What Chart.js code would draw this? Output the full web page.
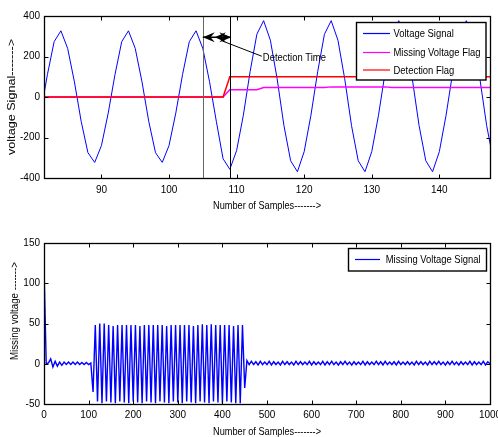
<!DOCTYPE html>
<html><head><meta charset="utf-8">
<script src="https://cdn.jsdelivr.net/npm/chart.js@4.4.1/dist/chart.umd.min.js"></script>
<style>
html,body{margin:0;padding:0;background:#fff;}
#wrap{position:relative;width:498px;height:437px;overflow:hidden;background:#fff;}
canvas{position:absolute;left:0;}
#c1{top:0;} #c2{top:218px;}
</style></head><body>
<div id="wrap"><canvas id="c1" width="498" height="218"></canvas><canvas id="c2" width="498" height="219"></canvas></div>
<script>
// ---------- DATA ----------
const topSamples = [81,82,83,84,85,86,87,88,89,90,91,92,93,94,95,96,97,98,99,100,
  101,102,103,104,105,106,107,108,109,110,111,112,113,114,115,116,117,118,119,120,
  121,122,123,124,125,126,127,128,129,130,131,132,133,134,135,136,137,138,139,140,
  141,142,143,144,145,146,147,148];
const voltageSignal = [-80,110,273,327,240,75,-120,-275,-323,-240,-80,110,273,327,240,75,-120,-275,-323,-240,
  -80,110,273,327,240,75,-120,-305,-357,-265,-90,125,310,377,280,90,-140,-315,-369,-270,
  -90,125,310,377,280,90,-140,-315,-369,-270,-90,125,310,377,280,90,-140,-315,-369,-270,
  -90,125,310,377,280,90,-140,-315];
const missingFlag = [0,0,0,0,0,0,0,0,0,0,0,0,0,0,0,0,0,0,0,0,
  0,0,0,0,0,0,0,0,36,36,36,36,36,47,47,47,47,47,47,47,
  47,47,47,50,50,50,50,50,50,50,50,50,47,47,47,47,47,47,47,47,
  47,47,47,47,47,47,47,47];
const detectionFlag = [0,0,0,0,0,0,0,0,0,0,0,0,0,0,0,0,0,0,0,0,
  0,0,0,0,0,0,0,0,100,100,100,100,100,100,100,100,100,100,100,100,
  100,100,100,100,100,100,100,100,100,100,100,100,100,100,100,100,100,100,100,100,
  100,100,100,100,100,100,100,100];
const topLabels = ['Voltage Signal','Missing Voltage Flag','Detection Flag'];
const markerSamples = [105, 109];
const arrowLevel = 295;
const annotationText = 'Detection Time';

const missStep = 5; // samples between stored points (x = index * missStep)
const missingVoltage = [120,0,1,6,-4,3,-3,2,-2,2,
  -1,2,-1,2,-1,2,-1,1.5,-1,1.5,
  -1,1,-35,48,-47,50,-49,50,-47,48,
  -48,47,-49,48,-47,48,-48,48,-49,48,
  -47,48,-48,47,-49,48,-47,48,-48,48,
  -49,48,-47,48,-48,47,-49,48,-47,48,
  -48,48,-49,48,-47,48,-48,47,-49,48,
  -47,49,-48,48,-49,49,-47,48,-48,48,
  -49,48,-47,48,-48,47,-49,48,-49,48,
  -30,4,-1,
  3,-1,2.5,-1.5,3,-1,2,-1,3,-1.5,2.5,-1,
  2,-1.5,3,-1,2.5,-1,2,-1.5,3,-1,2.5,-1,
  2,-1,3,-1.5,2.5,-1,2,-1,3,-1.5,2.5,-1,
  3,-1,2,-1.5,2.5,-1,3,-1,2,-1.5,2.5,-1,
  2,-1,3,-1.5,2.5,-1,2,-1,3,-1,2.5,-1.5,
  3,-1,2,-1,2.5,-1.5,3,-1,2,-1,2.5,-1,
  2,-1.5,3,-1,2.5,-1,2,-1.5,3,-1,2.5,-1,
  3,-1,2,-1.5,2.5,-1,3,-1,2,-1.5,2.5,-1,
  2,-1,3,-1.5,2.5,-1,2,-1,3,-1.5,2.5,0];
const bottomLabel = 'Missing Voltage Signal';

// ---------- FONTS ----------
const FONT = "'Liberation Sans', Arial, Helvetica, sans-serif";
function hasFont(name){
  const c=document.createElement('canvas').getContext('2d');
  c.font="40px monospace"; const a=c.measureText('abcdefghijklmWMi').width;
  c.font="40px '"+name+"', monospace"; const b=c.measureText('abcdefghijklmWMi').width;
  return Math.abs(a-b)>0.5;
}
const NARROW = hasFont('Liberation Sans Narrow');
const tickFont = NARROW ? {family:"'Liberation Sans Narrow', 'Liberation Sans', Arial, sans-serif", size:11}
                        : {family:FONT, size:10};
const SX = 0.82; // horizontal compression for hand-drawn texts

function txt(ctx,s,x,y,size,sx,align,rot){
  ctx.save(); ctx.font=size+'px '+FONT; ctx.fillStyle='#000';
  ctx.textAlign=align; ctx.textBaseline='middle';
  ctx.translate(x,y); if(rot) ctx.rotate(-Math.PI/2); ctx.scale(sx,1);
  ctx.fillText(s,0,0); ctx.restore();
}
function txtW(ctx,s,x,y,size,width,align,rot){
  ctx.save(); ctx.font=size+'px '+FONT; const w=ctx.measureText(s).width; ctx.restore();
  txt(ctx,s,x,y,size,width/w,align,rot);
}
function frame(chart){
  const ctx=chart.ctx,a=chart.chartArea,xs=chart.scales.x,ys=chart.scales.y;
  const L=Math.round(a.left)+0.5,R=Math.round(a.right)+0.5,T=Math.round(a.top)+0.5,B=Math.round(a.bottom)+0.5;
  ctx.save(); ctx.strokeStyle='#000'; ctx.lineWidth=1; ctx.beginPath();
  xs.ticks.forEach(t=>{const p=Math.round(xs.getPixelForValue(t.value))+0.5;
    ctx.moveTo(p,B); ctx.lineTo(p,B-4); ctx.moveTo(p,T); ctx.lineTo(p,T+4);});
  ys.ticks.forEach(t=>{const p=Math.round(ys.getPixelForValue(t.value))+0.5;
    ctx.moveTo(L,p); ctx.lineTo(L+4,p); ctx.moveTo(R,p); ctx.lineTo(R-4,p);});
  ctx.stroke();
  ctx.lineWidth=1.3; ctx.strokeRect(L,T,R-L,B-T);
  ctx.restore();
}
function drawLegend(chart,box,lx1,lx2,tx,rows){
  const ctx=chart.ctx;
  ctx.save();
  ctx.fillStyle='#fff'; ctx.fillRect(box.x,box.y,box.w,box.h);
  ctx.strokeStyle='#000'; ctx.lineWidth=1.4; ctx.strokeRect(box.x,box.y,box.w,box.h);
  chart.data.datasets.forEach((d,i)=>{
    ctx.strokeStyle=d.borderColor; ctx.lineWidth=1.2;
    ctx.beginPath(); ctx.moveTo(lx1,rows[i]); ctx.lineTo(lx2,rows[i]); ctx.stroke();
    txt(ctx,d.label,tx,rows[i]+0.5,11.5,SX,'left',false);
  });
  ctx.restore();
}

const topDecor = {
  id:'topDecor',
  afterDatasetsDraw(chart){
    const ctx=chart.ctx,xs=chart.scales.x,ys=chart.scales.y,a=chart.chartArea;
    ctx.save();
    const cols=['#666','#000'];
    markerSamples.forEach((s,i)=>{
      const px=Math.round(xs.getPixelForValue(s))+0.5;
      ctx.strokeStyle=cols[i]; ctx.lineWidth=1;
      ctx.beginPath(); ctx.moveTo(px,a.top); ctx.lineTo(px,a.bottom); ctx.stroke();
    });
    const x1=xs.getPixelForValue(markerSamples[0]), x2=xs.getPixelForValue(markerSamples[1]);
    const ay=ys.getPixelForValue(arrowLevel);
    ctx.strokeStyle='#000'; ctx.fillStyle='#000'; ctx.lineWidth=1.5;
    ctx.beginPath(); ctx.moveTo(x1,ay); ctx.lineTo(x2,ay); ctx.stroke();
    const head=(tip,dir,len,hw)=>{ctx.beginPath(); ctx.moveTo(tip,ay); ctx.lineTo(tip+dir*len,ay-hw); ctx.lineTo(tip+dir*len*0.65,ay); ctx.lineTo(tip+dir*len,ay+hw); ctx.closePath(); ctx.fill();};
    head(x1,1,12,5);
    head(x1+12,1,11,5);
    head(x2+1.5,-1,12,5);
    ctx.lineWidth=1;
    ctx.beginPath(); ctx.moveTo(x1+0.7*(x2-x1),ay+3.5); ctx.lineTo(x2+32,ay+19); ctx.stroke();
    ctx.restore();
    txt(ctx,annotationText,x2+33,ay+20.5,11.5,SX,'left',false);
    drawLegend(chart,{x:356.5,y:22.5,w:129.5,h:57.5},363,390,393.5,[33.5,52.5,70]);
    frame(chart);
    txtW(ctx,'Number of Samples------->',(a.left+a.right)/2,206,11,108,'center',false);
    txtW(ctx,'voltage Signal------->',12.5,97,10,116,'center',true);
  }
};
const botDecor = {
  id:'botDecor',
  afterDatasetsDraw(chart){
    const ctx=chart.ctx,a=chart.chartArea;
    drawLegend(chart,{x:348.5,y:30.5,w:138,h:22.5},355,380,385.7,[41.5]);
    frame(chart);
    txtW(ctx,'Number of Samples------->',(a.left+a.right)/2,213.7,11,108,'center',false);
    txtW(ctx,'Missing voltage ------->',15.5,93,10,98,'center',true);
  }
};

Chart.defaults.font.family = tickFont.family;
Chart.defaults.color = '#000';

const lineDs = (label,data,color,w,order)=>({label,data,borderColor:color,backgroundColor:color,borderWidth:w,
  pointRadius:0,tension:0,fill:false,order});
const noGrid = {display:false,drawTicks:false,drawOnChartArea:false};

new Chart(document.getElementById('c1'),{
  type:'line',
  data:{datasets:[
    lineDs(topLabels[0],topSamples.map((s,i)=>({x:s,y:voltageSignal[i]})),'#0000ff',1,3),
    lineDs(topLabels[1],topSamples.map((s,i)=>({x:s,y:missingFlag[i]})),'#ff00ff',1.5,2),
    lineDs(topLabels[2],topSamples.map((s,i)=>({x:s,y:detectionFlag[i]})),'#ff0000',1.5,1)
  ]},
  options:{
    responsive:false,animation:false,devicePixelRatio:1,
    layout:{padding:{left:0,right:8,top:16,bottom:0}},
    plugins:{legend:{display:false},tooltip:{enabled:false}},
    scales:{
      x:{type:'linear',min:81.5,max:147.5,grid:noGrid,border:{display:false},
        ticks:{stepSize:10,includeBounds:false,autoSkip:false,maxRotation:0,padding:12-tickFont.size*0.6,
          font:tickFont,color:'#000',callback:v=>String(v)},
        afterFit(s){s.height=40;s.paddingLeft=0;s.paddingRight=0;}},
      y:{type:'linear',min:-400,max:400,grid:noGrid,border:{display:false},
        ticks:{stepSize:200,includeBounds:false,padding:4,font:tickFont,color:'#000',callback:v=>String(v)},
        afterFit(s){s.width=44;s.paddingTop=0;s.paddingBottom=0;}}
    }
  },
  plugins:[topDecor]
});

new Chart(document.getElementById('c2'),{
  type:'line',
  data:{datasets:[
    lineDs(bottomLabel,missingVoltage.map((v,i)=>({x:i*missStep,y:v})),'#0000ff',1.4,1)
  ]},
  options:{
    responsive:false,animation:false,devicePixelRatio:1,
    layout:{padding:{left:0,right:8,top:25,bottom:0}},
    plugins:{legend:{display:false},tooltip:{enabled:false}},
    scales:{
      x:{type:'linear',min:0,max:1000,grid:noGrid,border:{display:false},
        ticks:{stepSize:100,includeBounds:false,autoSkip:false,maxRotation:0,padding:11-tickFont.size*0.6,
          font:tickFont,color:'#000',callback:v=>String(v)},
        afterFit(s){s.height=33;s.paddingLeft=0;s.paddingRight=0;}},
      y:{type:'linear',min:-50,max:150,grid:noGrid,border:{display:false},
        ticks:{stepSize:50,includeBounds:false,padding:4,font:tickFont,color:'#000',callback:v=>String(v)},
        afterFit(s){s.width=44;s.paddingTop=0;s.paddingBottom=0;}}
    }
  },
  plugins:[botDecor]
});
</script>
</body></html>
